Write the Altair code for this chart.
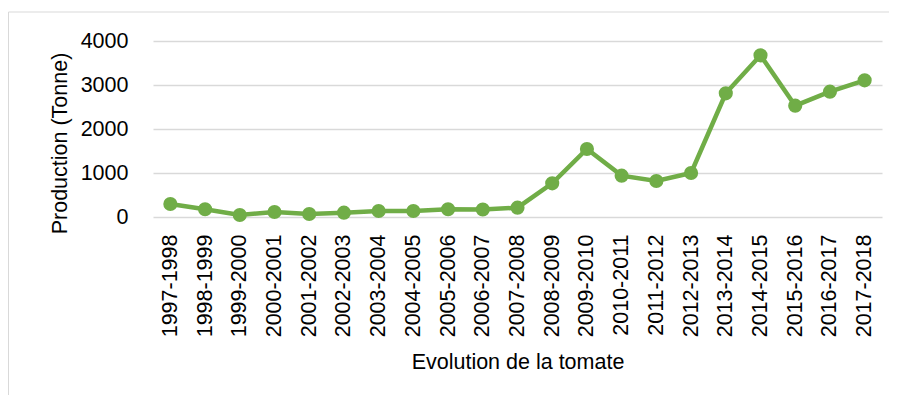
import altair as alt
import pandas as pd

seasons = [
    "1997-1998", "1998-1999", "1999-2000", "2000-2001", "2001-2002",
    "2002-2003", "2003-2004", "2004-2005", "2005-2006", "2006-2007",
    "2007-2008", "2008-2009", "2009-2010", "2010-2011", "2011-2012",
    "2012-2013", "2013-2014", "2014-2015", "2015-2016", "2016-2017",
    "2017-2018",
]
production = [295, 175, 45, 114, 68, 98, 136, 136, 175, 170, 212,
              765, 1545, 940, 818, 1000, 2811, 3674, 2530, 2848, 3106]
y_ticks = [0, 1000, 2000, 3000, 4000]

df = pd.DataFrame({"Saison": seasons, "Production": production})

FONT = "Liberation Sans, Arial, sans-serif"
FS = 21.5
GREEN = "#70AD47"
GRID = "#D9D9D9"

x_enc = alt.X(
    "Saison:N", sort=seasons,
    scale=alt.Scale(type="point", padding=0.5),
    axis=alt.Axis(
        title="Evolution de la tomate", labelAngle=270, labelPadding=17,
        ticks=False, domain=False, grid=False,
        labelFont=FONT, labelFontSize=FS, labelColor="#000000",
        titleFont=FONT, titleFontSize=FS, titleFontWeight="normal",
        titleColor="#000000", titleBaseline="alphabetic",
        titleY=151.5, titleX=364.5, titleAlign="center",
    ),
)
y_enc = alt.Y(
    "Production:Q",
    scale=alt.Scale(domain=[0, 4000]),
    axis=alt.Axis(
        values=y_ticks, format="d", title="Production (Tonne)",
        labelPadding=25, ticks=False, domain=False,
        gridColor=GRID, gridWidth=1.5,
        labelFont=FONT, labelFontSize=FS, labelColor="#000000",
        titleFont=FONT, titleFontSize=FS, titleFontWeight="normal",
        titleColor="#000000", titleAngle=270, titleBaseline="alphabetic",
        titleAlign="center", titleX=-87, titleY=102,
    ),
)

base = alt.Chart(df).encode(x=x_enc, y=y_enc)
line = base.mark_line(color=GREEN, strokeWidth=4.5)
points = base.mark_point(filled=True, size=200, color=GREEN, opacity=1)

frame = alt.Data(values=[{}])
border_top = alt.Chart(frame).mark_rule(color=GRID, strokeWidth=1).encode(
    x=alt.value(-144.5), x2=alt.value(760), y=alt.value(-29)
)
border_left = alt.Chart(frame).mark_rule(color=GRID, strokeWidth=1).encode(
    x=alt.value(-144.5), y=alt.value(-29), y2=alt.value(400)
)

chart = alt.layer(border_top, border_left, line, points).properties(
    width=729, height=176,
    autosize=alt.AutoSizeParams(type="none"),
    padding={"left": 145, "top": 33, "right": 7, "bottom": 178},
    background="white",
).configure_view(stroke=None)

chart.save("out.html", embed_options={"renderer": "svg", "actions": False})
